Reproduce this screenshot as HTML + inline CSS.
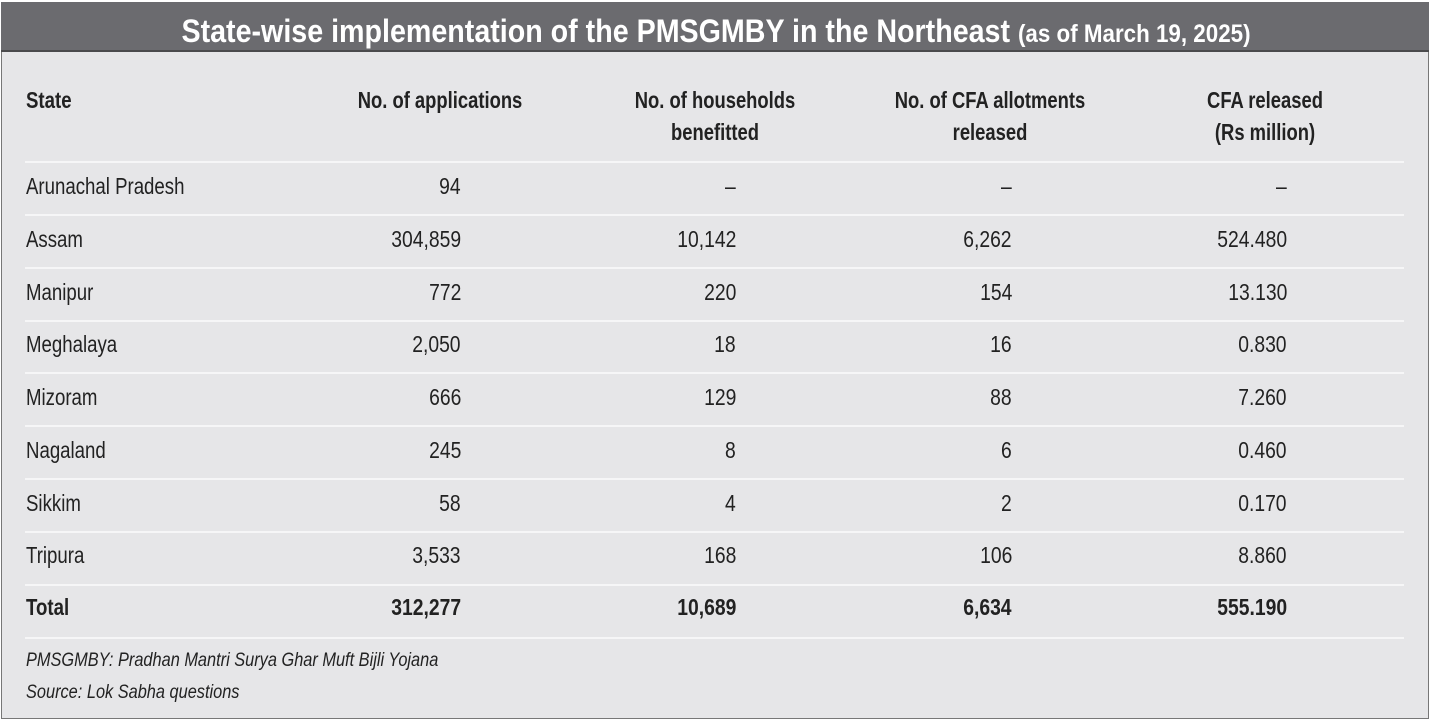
<!DOCTYPE html>
<html><head><meta charset="utf-8"><style>
body{margin:0;width:1434px;height:724px;background:#fff;overflow:hidden;font-family:"Liberation Sans",sans-serif;}
#f{position:absolute;left:1px;top:2px;width:1428px;height:717px;background:#e6e6e8;border:1px solid #777;box-sizing:border-box;}
#hb{position:absolute;left:1px;top:2px;width:1428px;height:50px;background:#6b6b6f;border-bottom:2px solid #4a4a4c;box-sizing:border-box;}
.t{position:absolute;white-space:nowrap;font-size:23px;line-height:23px;color:#222;}
.l{transform:scaleX(.81);transform-origin:left center;}
.r{transform:scaleX(.84);transform-origin:right center;text-align:right;}
.c{transform:translateX(-50%) scaleX(.8);transform-origin:center center;text-align:center;}
.b{font-weight:bold;}
.hl{position:absolute;left:25px;width:1379px;height:2px;background:#f6f6f7;}
.i{font-style:italic;font-size:19px;line-height:19px;transform:scaleX(.86);}
</style></head><body>
<div id="f"></div><div id="hb"></div>
<div class="t b" style="left:716px;top:15px;color:#fff;font-size:32px;line-height:32px;transform:translateX(-50%) scaleX(.895);transform-origin:center;">State-wise implementation of the PMSGMBY in the Northeast <span style="font-size:25px">(as of March 19, 2025)</span></div>
<div class="t b l" style="left:26px;top:89px">State</div>
<div class="t b c" style="left:440px;top:89px">No. of applications</div>
<div class="t b c" style="left:715px;top:89px">No. of households</div>
<div class="t b c" style="left:715px;top:121px">benefitted</div>
<div class="t b c" style="left:990px;top:89px">No. of CFA allotments</div>
<div class="t b c" style="left:990px;top:121px">released</div>
<div class="t b c" style="left:1265px;top:89px">CFA released</div>
<div class="t b c" style="left:1265px;top:121px">(Rs million)</div>
<div class="hl" style="top:161px"></div><div class="hl" style="top:214px"></div><div class="hl" style="top:267px"></div><div class="hl" style="top:320px"></div><div class="hl" style="top:372px"></div><div class="hl" style="top:425px"></div><div class="hl" style="top:478px"></div><div class="hl" style="top:531px"></div><div class="hl" style="top:584px"></div><div class="hl" style="top:637px"></div>

<div class="t l" style="left:26px;top:175px">Arunachal Pradesh</div><div class="t r" style="right:973px;top:175px">94</div><div class="t r" style="right:698px;top:175px">–</div><div class="t r" style="right:422px;top:175px">–</div><div class="t r" style="right:147px;top:175px">–</div>
<div class="t l" style="left:26px;top:228px">Assam</div><div class="t r" style="right:973px;top:228px">304,859</div><div class="t r" style="right:698px;top:228px">10,142</div><div class="t r" style="right:422px;top:228px">6,262</div><div class="t r" style="right:147px;top:228px">524.480</div>
<div class="t l" style="left:26px;top:281px">Manipur</div><div class="t r" style="right:973px;top:281px">772</div><div class="t r" style="right:698px;top:281px">220</div><div class="t r" style="right:422px;top:281px">154</div><div class="t r" style="right:147px;top:281px">13.130</div>
<div class="t l" style="left:26px;top:333px">Meghalaya</div><div class="t r" style="right:973px;top:333px">2,050</div><div class="t r" style="right:698px;top:333px">18</div><div class="t r" style="right:422px;top:333px">16</div><div class="t r" style="right:147px;top:333px">0.830</div>
<div class="t l" style="left:26px;top:386px">Mizoram</div><div class="t r" style="right:973px;top:386px">666</div><div class="t r" style="right:698px;top:386px">129</div><div class="t r" style="right:422px;top:386px">88</div><div class="t r" style="right:147px;top:386px">7.260</div>
<div class="t l" style="left:26px;top:439px">Nagaland</div><div class="t r" style="right:973px;top:439px">245</div><div class="t r" style="right:698px;top:439px">8</div><div class="t r" style="right:422px;top:439px">6</div><div class="t r" style="right:147px;top:439px">0.460</div>
<div class="t l" style="left:26px;top:492px">Sikkim</div><div class="t r" style="right:973px;top:492px">58</div><div class="t r" style="right:698px;top:492px">4</div><div class="t r" style="right:422px;top:492px">2</div><div class="t r" style="right:147px;top:492px">0.170</div>
<div class="t l" style="left:26px;top:544px">Tripura</div><div class="t r" style="right:973px;top:544px">3,533</div><div class="t r" style="right:698px;top:544px">168</div><div class="t r" style="right:422px;top:544px">106</div><div class="t r" style="right:147px;top:544px">8.860</div>
<div class="t l b" style="left:26px;top:596px">Total</div><div class="t r b" style="right:973px;top:596px">312,277</div><div class="t r b" style="right:698px;top:596px">10,689</div><div class="t r b" style="right:422px;top:596px">6,634</div><div class="t r b" style="right:147px;top:596px">555.190</div>

<div class="t l i" style="left:26px;top:651px">PMSGMBY: Pradhan Mantri Surya Ghar Muft Bijli Yojana</div>
<div class="t l i" style="left:26px;top:683px">Source: Lok Sabha questions</div>
</body></html>
